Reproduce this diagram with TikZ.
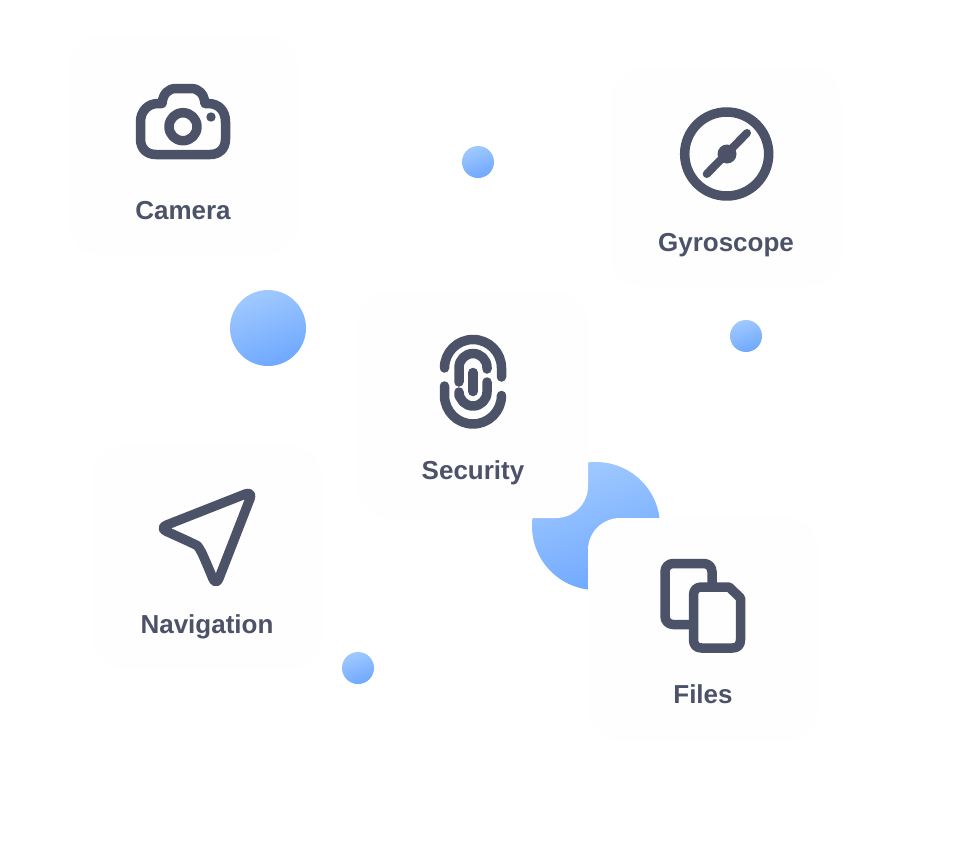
\documentclass[tikz,border=0pt]{standalone}
\usepackage{fontspec}
\setmainfont{Liberation Sans}
\definecolor{ink}{HTML}{4C5268}
\definecolor{cardfill}{HTML}{FEFEFE}
\definecolor{dotlight}{HTML}{A0C9FF}
\definecolor{dotdark}{HTML}{6FA8FF}
\begin{document}
\begin{tikzpicture}[
    x=1pt, y=-1pt,
    card/.style={fill=cardfill, rounded corners=32pt, minimum width=230pt, minimum height=218pt, inner sep=0pt},
    tallcard/.style={card, minimum height=222pt},
    dot/.style={circle, inner sep=0pt, top color=dotlight, bottom color=dotdark, shading angle=20},
    smalldot/.style={dot, minimum size=32pt},
    iconline/.style={draw=ink, line width=9.5pt, line cap=round, line join=round},
    iconfill/.style={fill=ink},
    lbl/.style={font=\fontsize{26pt}{30pt}\selectfont\bfseries, text=ink, anchor=base, inner sep=0pt},
]
\useasboundingbox (0,0) rectangle (964,854);
\fill[white] (0,0) rectangle (964,854);

% ─── Blue shapes ───
\node[dot, minimum size=128pt] at (596, 526) (blob) {};
\node[dot, minimum size=76pt] at (268, 328) (bigdot) {};
\node[smalldot] at (478, 162) (dotA) {};
\node[smalldot] at (746, 336) (dotB) {};
\node[smalldot] at (358, 668) (dotC) {};

% ─── Cards ───
\node[card] at (183, 145) (camcard) {};
\node[card] at (726, 177) (gyrocard) {};
\node[card, minimum height=226pt] at (473, 405) (seccard) {};
\node[tallcard] at (207, 557) (navcard) {};
\node[tallcard] at (703, 629) (filecard) {};

% ─── Labels ───
\node[lbl] at (183, 219) (camlbl) {Camera};
\node[lbl] at (726, 251) (gyrolbl) {Gyroscope};
\node[lbl] at (473, 479) (seclbl) {Security};
\node[lbl] at (207, 633) (navlbl) {Navigation};
\node[lbl] at (703, 703) (filelbl) {Files};

% ─── Camera icon ───
\draw[iconline] (140.5,122) .. controls (140.5,111) and (148,103.5) .. (158,103.5) -- (162,103.5)
    .. controls (163,94) and (168,88.5) .. (176,88.5) -- (191,88.5)
    .. controls (199,88.5) and (204,94) .. (205,103.5) -- (208,103.5)
    .. controls (219,103.5) and (225.5,111) .. (225.5,122) -- (225.5,139)
    .. controls (225.5,149) and (219,154.5) .. (210,154.5) -- (156,154.5)
    .. controls (147,154.5) and (140.5,149) .. (140.5,139) -- cycle;
\draw[iconline] (183,126.7) circle (14);
\fill[iconfill] (211,117) circle (4.7);

% ─── Gyroscope icon ───
\draw[iconline] (726.7,154) circle (42);
\draw[iconline, line width=8pt] (706.7,174) -- (747,133);
\fill[iconfill] (727,154) circle (9.5);

% ─── Security icon ───
\draw[iconline] (444.5,368) arc[start angle=180, end angle=360, radius=28.5] -- (501.5,377);
\draw[iconline] (444.5,386) -- (444.5,395.5) arc[start angle=180, end angle=0, radius=28.5];
\draw[iconline] (459,382) -- (459,367.5) arc[start angle=180, end angle=360, radius=14] -- (487,369);
\draw[iconline] (459,396) -- (459,392) arc[start angle=180, end angle=0, radius=14] -- (487,382);
\draw[iconline] (473,372.5) -- (473,391.5);

% ─── Navigation icon ───
\draw[iconline, rounded corners=8pt] (159,528) -- (253,491) -- (216,586) -- (206,562)
    .. controls (201,551) and (198,546) .. (190,542) -- cycle;

% ─── Files icon ───
\draw[iconline, rounded corners=8pt] (712,584) -- (712,563.5) -- (665,563.5) -- (665,624.5) -- (690,624.5);
\draw[iconline] (693.5,595) .. controls (693.5,590) and (696.5,587) .. (701.5,587) -- (729,587) -- (740.5,598) -- (740.5,640)
    .. controls (740.5,645) and (737.5,648) .. (732.5,648) -- (701.5,648)
    .. controls (696.5,648) and (693.5,645) .. (693.5,640) -- cycle;

\end{tikzpicture}
\end{document}
